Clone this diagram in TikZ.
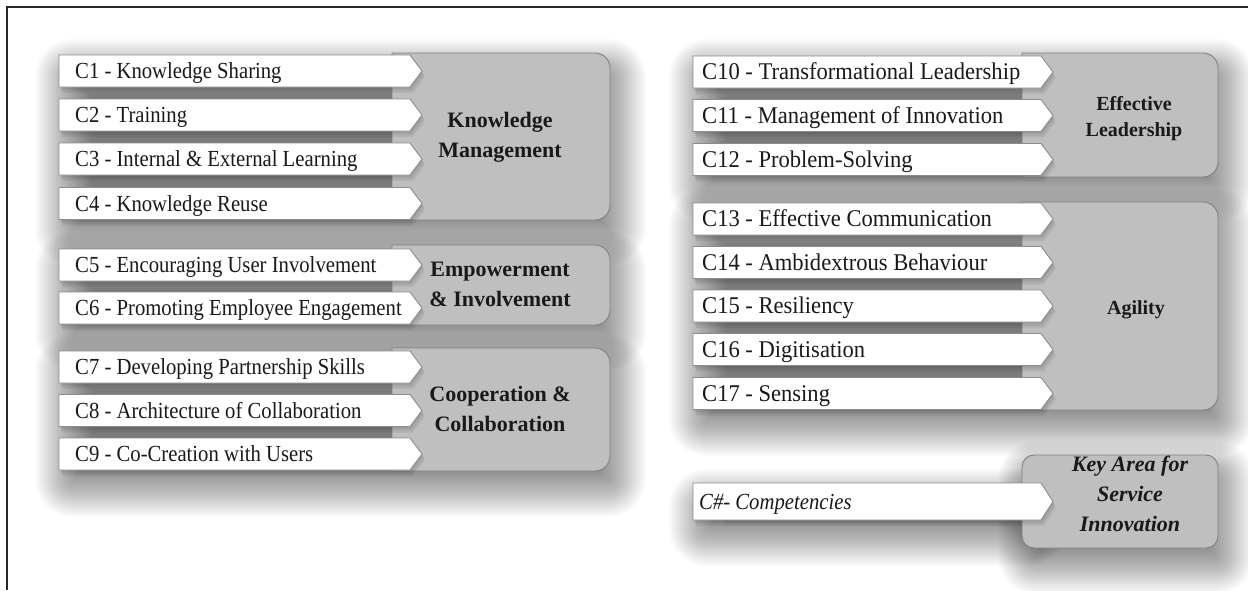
\documentclass[tikz,border=0pt]{standalone}
\usepackage{fontspec}
\setmainfont{Liberation Serif}
\newfontfamily\condfont{Liberation Serif}[FakeStretch=0.9]
\newfontfamily\condfontr{Liberation Serif}[FakeStretch=0.94]
\definecolor{boxgray}{RGB}{191,191,191}
\definecolor{edgegray}{RGB}{128,128,128}
\definecolor{wedge}{RGB}{140,140,140}
\definecolor{ink}{RGB}{25,25,25}
\definecolor{framec}{RGB}{40,40,40}
\newcommand{\lstrut}{\rule[-0.25em]{0pt}{1em}}
\tikzset{
  wbox/.style={fill=white, draw=wedge, line width=0.9pt, line join=miter},
  gbox/.style={fill=boxgray, draw=edgegray, line width=0.9pt},
  ctext/.style={inner sep=0pt, text=ink, font=\condfont\fontsize{23}{26}\selectfont},
  ctextr/.style={inner sep=0pt, text=ink, font=\condfontr\fontsize{24}{26}\selectfont},
  lbl/.style={inner sep=0pt, text=ink, align=center, font=\fontsize{22}{30}\selectfont\bfseries},
  lbls/.style={inner sep=0pt, text=ink, align=center, font=\fontsize{20}{26}\selectfont\bfseries},
  shd/.style={fill=black, opacity=0.017},
}
% soft group shadow: x1 y1 x2 y2
\newcommand{\gshadow}[4]{%
  \foreach \e in {30,28.5,...,-28}{%
    \pgfmathsetmacro{\rc}{max(\e+8,1)}%
    \fill[shd, rounded corners=\rc pt] ({#1+6-(\e)},{#2+16-(\e)}) rectangle ({#3+6+(\e)},{#4+16+(\e)});
  }}
% white chevron box: name, x0, xtip, yc, halfheight, inset, text, text style
\newcommand{\cbx}[8]{%
  \foreach \s in {1,2,3}{%
    \fill[black, opacity=0.06] ({#2+\s},{#4-#5+2*\s}) -- ({#3-12+\s},{#4-#5+2*\s}) -- ({#3+\s},{#4+2*\s}) -- ({#3-12+\s},{#4+#5+2*\s}) -- ({#2+\s},{#4+#5+2*\s}) -- cycle;}
  \draw[wbox] (#2,{#4-#5}) -- ({#3-12},{#4-#5}) -- (#3,#4) -- ({#3-12},{#4+#5}) -- (#2,{#4+#5}) -- cycle;
  \node[#8, anchor=base west] (#1) at ({#2+#6},{#4+7.5}) {#7};
}
% grey group box, rounded on the right: x1 y1 x2 y2
\newcommand{\gbx}[4]{%
  \draw[gbox] (#1,#4) -- (#1,#2) [rounded corners=15pt] -- (#3,#2) -- (#3,#4) [sharp corners] -- (#1,#4) -- cycle;
}
\begin{document}
\begin{tikzpicture}[x=1pt,y=-1pt]
\useasboundingbox (0,0) rectangle (1248,590);
\fill[white] (0,0) rectangle (1248,590);
% frame
\draw[framec, line width=2pt] (7,590) -- (7,7) -- (1248,7);
% shadows
\gshadow{59}{53}{610}{220}
\gshadow{59}{245}{610}{325}
\gshadow{59}{348}{610}{471}
\gshadow{693}{53}{1218}{177}
\gshadow{693}{202}{1218}{410}
\gshadow{1022}{455}{1218}{548}
\gshadow{693}{483}{1030}{520}
% grey boxes
\gbx{392}{53}{610}{220}
\gbx{392}{245}{610}{325}
\gbx{392}{348}{610}{471}
\gbx{1022}{53}{1218}{177}
\gbx{1022}{202}{1218}{410}
\draw[gbox, rounded corners=12pt] (1022,455) rectangle (1218,548);
% white boxes, left column
\cbx{c1}{59}{422}{71}{16}{16}{C1 - Knowledge Sharing}{ctext}
\cbx{c2}{59}{422}{115}{16}{16}{C2 - Training}{ctext}
\cbx{c3}{59}{422}{159}{16}{16}{C3 - Internal \& External Learning}{ctext}
\cbx{c4}{59}{422}{203.5}{16}{16}{C4 - Knowledge Reuse}{ctext}
\cbx{c5}{59}{422}{265}{16}{16}{C5 - Encouraging User Involvement}{ctext}
\cbx{c6}{59}{422}{308}{16}{16}{C6 - Promoting Employee Engagement}{ctext}
\cbx{c7}{59}{422}{367}{16}{16}{C7 - Developing Partnership Skills}{ctext}
\cbx{c8}{59}{422}{410.5}{16}{16}{C8 - Architecture of Collaboration}{ctext}
\cbx{c9}{59}{422}{454}{16}{16}{C9 - Co-Creation with Users}{ctext}
% white boxes, right column
\cbx{c10}{693}{1053}{72}{16}{9}{C10 - Transformational Leadership}{ctextr}
\cbx{c11}{693}{1053}{115.5}{16}{9}{C11 - Management of Innovation}{ctextr}
\cbx{c12}{693}{1053}{159.5}{16}{9}{C12 - Problem-Solving}{ctextr}
\cbx{c13}{693}{1053}{219}{16}{9}{C13 - Effective Communication}{ctextr}
\cbx{c14}{693}{1053}{262.5}{16}{9}{C14 - Ambidextrous Behaviour}{ctextr}
\cbx{c15}{693}{1053}{306}{16}{9}{C15 - Resiliency}{ctextr}
\cbx{c16}{693}{1053}{349.5}{16}{9}{C16 - Digitisation}{ctextr}
\cbx{c17}{693}{1053}{393.5}{16}{9}{C17 - Sensing}{ctextr}
\cbx{cx}{693}{1053}{501.5}{18.5}{6}{\itshape C\#- Competencies}{ctext}
% area labels
\node[lbl] (km) at (500,137) {\lstrut Knowledge\\\lstrut Management};
\node[lbl] (emp) at (500,286) {\lstrut Empowerment\\\lstrut \& Involvement};
\node[lbl] (coop) at (500,411) {\lstrut Cooperation \&\\\lstrut Collaboration};
\node[lbls] (el) at (1134,118) {\lstrut Effective\\\lstrut Leadership};
\node[lbls] (ag) at (1136,309) {\lstrut Agility};
\node[lbl, font=\fontsize{22}{30}\selectfont\bfseries\itshape] (key) at (1130,496) {\lstrut Key Area for\\\lstrut Service\\\lstrut Innovation};
\end{tikzpicture}
\end{document}
